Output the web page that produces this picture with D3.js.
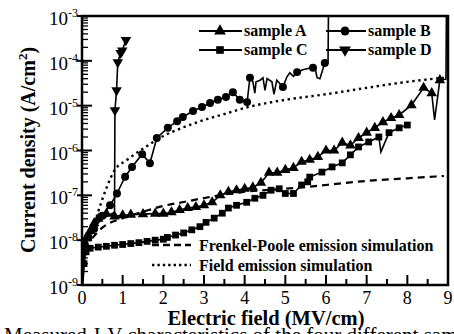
<!DOCTYPE html>
<html>
<head>
<meta charset="utf-8">
<script src="https://cdn.jsdelivr.net/npm/d3@7"></script>
<style>
  body { margin: 0; background: #fff; }
</style>
</head>
<body>
<div id="container"></div>
<script>
/**
 * CONSTANTS AND GLOBALS
 * */
const width = 454,
  height = 334,
  margin = { top: 16, bottom: 49, left: 82, right: 6 };
const font = "Liberation Serif";

// [electric field (MV/cm), current density (A/cm2)] -- marked points
const sampleA = [
  [0.05, 6e-9], [0.1, 1.1e-8], [0.2, 1.6e-8], [0.3, 2.4e-8], [0.4, 3.0e-8], [0.6, 3.9e-8],
  [0.8, 3.4e-8], [1.0, 3.6e-8], [1.2, 3.7e-8], [1.5, 3.8e-8], [1.8, 3.9e-8], [2.0, 3.9e-8],
  [2.2, 4.2e-8], [2.4, 4.7e-8], [2.6, 5.2e-8], [2.8, 5.5e-8], [3.0, 6.0e-8], [3.2, 7.0e-8],
  [3.4, 1.0e-7], [3.6, 1.2e-7], [3.8, 1.3e-7], [4.0, 1.4e-7], [4.2, 1.5e-7], [4.4, 1.9e-7],
  [4.6, 3.2e-7], [4.8, 3.2e-7], [5.0, 3.7e-7], [5.2, 4.1e-7], [5.4, 5.6e-7], [5.6, 6.2e-7],
  [5.8, 7.2e-7], [6.0, 1.0e-6], [6.2, 1.0e-6], [6.4, 1.5e-6], [6.6, 1.3e-6], [6.8, 1.9e-6],
  [7.0, 2.5e-6], [7.2, 3.2e-6], [7.4, 4.3e-6], [7.6, 5.3e-6], [7.8, 6.2e-6], [8.1, 1.03e-5],
  [8.4, 2.5e-5], [8.6, 1.9e-5], [8.8, 3.7e-5]
];
// line-only points (start, glitches, breakdown)
const sampleAExtra = [[0.02, 1.2e-9], [8.67, 4.8e-6], [8.95, 3.9e-5], [8.96, 1e-3]];

const sampleB = [
  [0.07, 8e-9], [0.15, 1.2e-8], [0.3, 1.8e-8], [0.5, 3.5e-8], [0.69, 6.0e-8], [0.86, 1.1e-7],
  [1.06, 2.6e-7], [1.23, 4.3e-7], [1.48, 8.3e-7], [1.67, 5.2e-7], [1.84, 1.9e-6], [2.11, 3.2e-6],
  [2.34, 4.5e-6], [2.48, 5.6e-6], [2.73, 7.6e-6], [2.95, 9.3e-6], [3.15, 1.15e-5], [3.34, 1.35e-5],
  [3.54, 1.56e-5], [3.71, 2.0e-5], [3.88, 1.35e-5], [4.06, 1.2e-5], [4.13, 4.2e-5], [4.94, 2.6e-5],
  [5.29, 5.6e-5], [5.68, 7.0e-5], [5.97, 8.9e-5]
];
const sampleBExtra = [
  [0.03, 1.5e-9], [4.2, 3.5e-5], [4.25, 1.9e-5], [4.28, 3.4e-5], [4.38, 3.7e-5], [4.45, 4.2e-5],
  [4.5, 2.2e-5], [4.55, 4.0e-5], [4.67, 3.4e-5], [4.72, 1.8e-5], [4.79, 3.7e-5], [5.04, 4.4e-5],
  [5.11, 5.4e-5], [5.2, 4.5e-5], [5.43, 6.3e-5], [5.61, 6.9e-5], [5.73, 7.2e-5], [5.78, 4.2e-5],
  [5.85, 4.0e-5], [6.05, 9.0e-5], [6.06, 1e-3]
];

const sampleC = [
  [0.05, 3e-9], [0.1, 5.5e-9], [0.2, 6.6e-9], [0.4, 7.0e-9], [0.6, 7.3e-9], [0.8, 7.7e-9],
  [1.0, 8.0e-9], [1.2, 8.4e-9], [1.4, 8.8e-9], [1.6, 9.4e-9], [1.8, 1.0e-8], [2.0, 1.05e-8],
  [2.1, 1.15e-8], [2.3, 1.3e-8], [2.5, 1.45e-8], [2.7, 1.7e-8], [2.9, 2.0e-8], [3.05, 2.5e-8],
  [3.25, 3.1e-8], [3.45, 4.0e-8], [3.6, 5.2e-8], [3.8, 6.0e-8], [4.05, 7.0e-8], [4.25, 8.6e-8],
  [4.45, 1.0e-7], [4.65, 1.3e-7], [4.85, 1.4e-7], [5.0, 1.1e-7], [5.2, 1.1e-7], [5.4, 1.7e-7],
  [5.55, 2.0e-7], [5.6, 2.55e-7], [5.9, 3.3e-7], [6.15, 4.3e-7], [6.4, 5.3e-7], [6.6, 8.0e-7],
  [6.8, 1.2e-6], [7.05, 1.55e-6], [7.3, 2.0e-6], [7.55, 2.5e-6], [7.8, 3.2e-6], [8.0, 3.7e-6]
];
const sampleCExtra = [[0.02, 1.0e-9], [7.35, 9.3e-7]];

const sampleD = [
  [0.81, 7.9e-6], [0.85, 2.2e-5], [0.88, 9.3e-5], [0.95, 1.5e-4], [0.99, 1.7e-4], [1.08, 2.9e-4]
];
const sampleDExtra = [[0.02, 2e-9], [0.1, 1.1e-8], [0.3, 2.0e-8], [0.5, 3.0e-8], [0.8, 4.2e-8]];

// simulations
const frenkelPoole = [
  [0.25, 1.1e-8], [0.5, 1.9e-8], [1.0, 3.1e-8], [1.5, 4.3e-8], [2.0, 5.8e-8], [2.5, 7.1e-8],
  [3.0, 8.7e-8], [4.0, 1.2e-7], [5.0, 1.4e-7], [6.0, 1.7e-7], [7.0, 2.1e-7], [8.0, 2.4e-7], [8.9, 2.7e-7]
];
const fieldEmission = [
  [0.2, 1.0e-8], [0.3, 2.2e-8], [0.45, 6.0e-8], [0.6, 1.45e-7], [0.8, 3.6e-7], [1.1, 6.1e-7],
  [1.5, 1.1e-6], [2.0, 2.1e-6], [2.5, 3.3e-6], [3.0, 4.8e-6], [3.5, 6.5e-6], [4.0, 8.9e-6],
  [5.0, 1.35e-5], [6.0, 1.8e-5], [7.0, 2.5e-5], [8.0, 3.4e-5], [8.9, 4.2e-5]
];

const xTicks = d3.range(0, 10);
const yExponents = [-9, -8, -7, -6, -5, -4, -3];
const sampleNames = ["sample A", "sample B", "sample C", "sample D"];
const simNames = ["Frenkel-Poole emission simulation", "Field emission simulation"];
const xTitle = "Electric field (MV/cm)";
const caption = "Measured J-V characteristics of the four different samples.";

let svg;

init();

function init() {
  svg = d3.select("#container")
    .append("svg")
    .attr("width", width)
    .attr("height", height)
    .style("background-color", "white");

  const xScale = d3.scaleLinear().domain([0, 9]).range([margin.left, width - margin.right]);
  const yScale = d3.scaleLog().domain([1e-9, 1e-3]).range([height - margin.bottom, margin.top]);
  const x0 = xScale.range()[0], x1 = xScale.range()[1];
  const y0 = yScale.range()[0], y1 = yScale.range()[1];

  svg.append("clipPath").attr("id", "plot-clip")
    .append("rect").attr("x", x0).attr("y", y1).attr("width", x1 - x0).attr("height", y0 - y1);

  // x ticks (inward)
  const xMinor = d3.range(0.5, 9, 1);
  svg.selectAll(".xmajor").data(xTicks).join("line")
    .attr("class", "xmajor")
    .attr("x1", d => xScale(d)).attr("x2", d => xScale(d))
    .attr("y1", y0).attr("y2", y0 - 10)
    .attr("stroke", "#000").attr("stroke-width", 2);
  svg.selectAll(".xminor").data(xMinor).join("line")
    .attr("class", "xminor")
    .attr("x1", d => xScale(d)).attr("x2", d => xScale(d))
    .attr("y1", y0).attr("y2", y0 - 6)
    .attr("stroke", "#000").attr("stroke-width", 2);
  svg.selectAll(".xlabel").data(xTicks).join("text")
    .attr("class", "xlabel")
    .attr("x", d => xScale(d)).attr("y", 304)
    .attr("font-family", font)
    .attr("text-anchor", "middle").attr("font-size", 18)
    .text(d => d);

  // y ticks
  const yMinor = [];
  yExponents.slice(0, -1).forEach(e => d3.range(2, 10).forEach(k => yMinor.push(k * Math.pow(10, e))));
  svg.selectAll(".yminor").data(yMinor).join("line")
    .attr("class", "yminor")
    .attr("x1", x0).attr("x2", x0 + 6)
    .attr("y1", d => yScale(d)).attr("y2", d => yScale(d))
    .attr("stroke", "#000").attr("stroke-width", 1.3);
  svg.selectAll(".ymajor").data(yExponents).join("line")
    .attr("class", "ymajor")
    .attr("x1", x0 - 5).attr("x2", x0 + 10)
    .attr("y1", d => yScale(Math.pow(10, d))).attr("y2", d => yScale(Math.pow(10, d)))
    .attr("stroke", "#000").attr("stroke-width", 2);
  const yLabels = svg.selectAll(".ylabel").data(yExponents).join("text")
    .attr("class", "ylabel")
    .attr("x", x0 - 4).attr("y", d => yScale(Math.pow(10, d)) + 9)
    .attr("font-family", font)
    .attr("text-anchor", "end").attr("font-size", 19);
  yLabels.append("tspan").text("10");
  yLabels.append("tspan").attr("font-size", 12).attr("dy", -8).text(d => d);

  // simulation curves
  const line = d3.line().x(d => xScale(d[0])).y(d => yScale(d[1]));
  const smooth = d3.line().x(d => xScale(d[0])).y(d => yScale(d[1])).curve(d3.curveMonotoneX);
  const plot = svg.append("g").attr("clip-path", "url(#plot-clip)");

  plot.append("path").datum(frenkelPoole)
    .attr("d", smooth).attr("fill", "none").attr("stroke", "#000")
    .attr("stroke-width", 2.2).attr("stroke-dasharray", "7,5");
  plot.append("path").datum(fieldEmission)
    .attr("d", smooth).attr("fill", "none").attr("stroke", "#000")
    .attr("stroke-width", 2.4).attr("stroke-dasharray", "2.4,3.6");

  // measured samples
  const series = [
    { marks: sampleA, extra: sampleAExtra, sym: d3.symbolTriangle, rot: 0, size: 48 },
    { marks: sampleB, extra: sampleBExtra, sym: d3.symbolCircle, rot: 0, size: 50 },
    { marks: sampleC, extra: sampleCExtra, sym: d3.symbolSquare, rot: 0, size: 46 },
    { marks: sampleD, extra: sampleDExtra, sym: d3.symbolTriangle, rot: 180, size: 48 }
  ];

  series.forEach(s => {
    const all = s.marks.concat(s.extra).sort((a, b) => a[0] - b[0]);
    plot.append("path").datum(all)
      .attr("d", line).attr("fill", "none").attr("stroke", "#000").attr("stroke-width", 1.6);
    plot.selectAll(null).data(s.marks).join("path")
      .attr("d", d3.symbol(s.sym, s.size))
      .attr("transform", d => `translate(${xScale(d[0])},${yScale(d[1])}) rotate(${s.rot})`)
      .attr("fill", "#000");
  });

  // frame
  svg.append("rect")
    .attr("x", x0).attr("y", y1).attr("width", x1 - x0).attr("height", y0 - y1)
    .attr("fill", "none").attr("stroke", "#000").attr("stroke-width", 2.5);

  // top legend
  const legendPos = [
    { lx: 199, rx: 242, mx: 220, ty: 36, ly: 31 },
    { lx: 326, rx: 366, mx: 345, ty: 36, ly: 31 },
    { lx: 199, rx: 242, mx: 220, ty: 55, ly: 50 },
    { lx: 326, rx: 366, mx: 345, ty: 55, ly: 50 }
  ];
  sampleNames.forEach((name, i) => {
    const p = legendPos[i], s = series[i];
    svg.append("line").attr("x1", p.lx).attr("x2", p.rx).attr("y1", p.ly).attr("y2", p.ly)
      .attr("stroke", "#000").attr("stroke-width", 1.8);
    svg.append("path").attr("d", d3.symbol(s.sym, s.size + 12))
      .attr("transform", `translate(${p.mx},${p.ly}) rotate(${s.rot})`).attr("fill", "#000");
    svg.append("text").attr("x", p.rx + 2).attr("y", p.ty)
      .attr("font-family", font)
      .attr("font-size", 16).attr("font-weight", "bold").text(name);
  });

  // bottom legend
  const simDash = ["7,4", "2.4,3"];
  simNames.forEach((name, i) => {
    const ly = 245 + i * 20;
    svg.append("line").attr("x1", 152).attr("x2", 191).attr("y1", ly).attr("y2", ly)
      .attr("stroke", "#000").attr("stroke-width", 2.4).attr("stroke-dasharray", simDash[i]);
    svg.append("text").attr("x", 199).attr("y", ly + 5.5)
      .attr("font-family", font)
      .attr("font-size", 16).attr("font-weight", "bold").text(name);
  });

  // axis titles
  svg.append("text").attr("x", 266).attr("y", 325)
    .attr("font-family", font)
    .attr("text-anchor", "middle").attr("font-size", 20.5).attr("font-weight", "bold")
    .text(xTitle);

  const yt = svg.append("text")
    .attr("transform", "translate(35,150) rotate(-90)")
    .attr("font-family", font)
    .attr("text-anchor", "middle").attr("font-size", 20).attr("font-weight", "bold");
  yt.append("tspan").text("Current density (A/cm");
  yt.append("tspan").attr("font-size", 13).attr("dy", -8).text("2");
  yt.append("tspan").attr("dy", 8).text(")");

  // caption (cut off at the bottom edge)
  svg.append("text").attr("x", 4).attr("y", 342)
    .attr("font-family", font)
    .attr("font-size", 21).text(caption);
}
</script>
</body>
</html>
